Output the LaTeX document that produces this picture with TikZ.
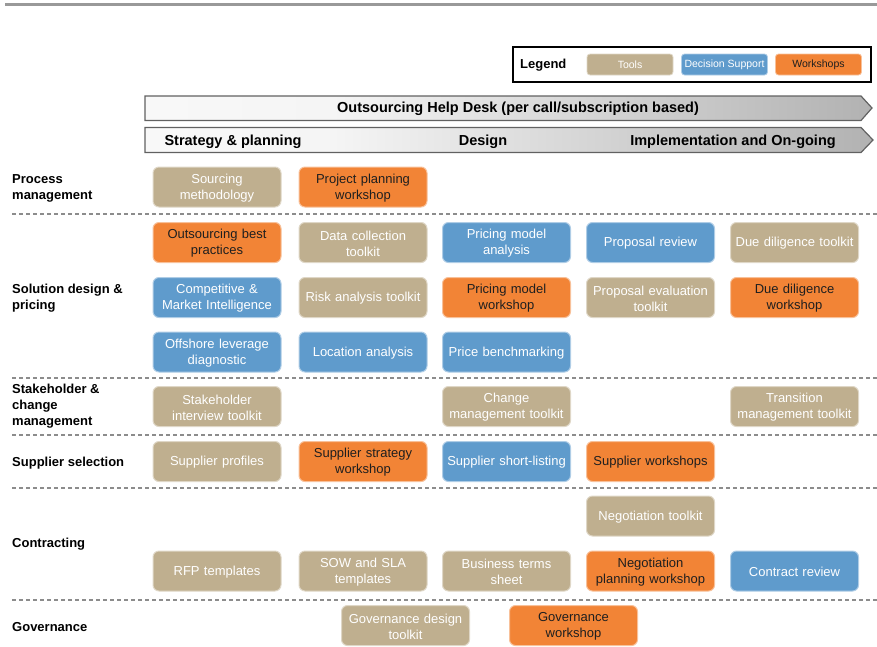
\documentclass[tikz,border=0pt]{standalone}
\usepackage{fontspec}
\setmainfont{Liberation Sans}
\usetikzlibrary{shapes.geometric, arrows.meta, positioning, calc}

\definecolor{toolC}{HTML}{BFAF8F}
\definecolor{decC}{HTML}{5F9BCC}
\definecolor{wsC}{HTML}{F28436}
\pgfdeclarehorizontalshading{bannershade}{100bp}{color(0bp)=(white); color(38bp)=(white!96!black); color(100bp)=(black!48)}

\tikzset{
  item/.style={rectangle, rounded corners=6pt, minimum width=128pt,
               minimum height=40pt, text width=122pt, inner sep=2pt,
               align=center, line width=1pt, text height=11.5pt,
               font=\fontsize{13}{16}\selectfont},
  itemT/.style={item, fill=toolC, draw=toolC!50!white, text=white},
  itemD/.style={item, fill=decC, draw=decC!50!white, text=white},
  itemW/.style={item, fill=wsC, draw=wsC!50!white, text=black!88},
  legitem/.style={rectangle, rounded corners=3pt, minimum width=86pt,
                  minimum height=21pt, inner sep=1pt, line width=0.8pt,
                  font=\fontsize{10.5}{12}\selectfont},
  legT/.style={legitem, fill=toolC, draw=toolC!50!white, text=white},
  legD/.style={legitem, fill=decC, draw=decC!50!white, text=white},
  legW/.style={legitem, fill=wsC, draw=wsC!50!white, text=black!88},
  rowlabel/.style={anchor=west, align=left, inner sep=0pt,
                   font=\bfseries\fontsize{13}{16}\selectfont},
  sep/.style={draw=black!45, line width=1.2pt, dash pattern=on 4pt off 3pt},
  banner/.style={draw=black!62, line width=1.2pt, shading=bannershade},
  bannertext/.style={inner sep=0pt, font=\bfseries\fontsize{14.5}{17}\selectfont},
}

\begin{document}
\begin{tikzpicture}[x=1pt, y=-1pt]

  \useasboundingbox (0,0) rectangle (877,646);

  % top rule
  \draw[black!40, line width=3pt] (5,4) -- (877,4);

  % legend
  \draw[black, line width=1.2pt] (513,47) rectangle (871,82);
  \node[anchor=west, inner sep=0pt, font=\bfseries\fontsize{13}{16}\selectfont] (leg) at (520,65.5) {Legend};
  \node[legT] (legtool) at (630,64.5)   {Tools};
  \node[legD] (legdec)  at (724.5,64.5) {Decision Support};
  \node[legW] (legws)   at (818.5,64.5) {Workshops};

  % banners
  \path[banner] (145,96) -- (861,96) -- (872,108) -- (861,120.5) -- (145,120.5) -- cycle;
  \node[bannertext] (helpdesk) at (518,108.5) {Outsourcing Help Desk (per call/subscription based)};
  \path[banner] (145,127.5) -- (861,127.5) -- (873,140) -- (861,152.5) -- (145,152.5) -- cycle;
  \node[bannertext] (phase1) at (233,141.5) {Strategy \& planning};
  \node[bannertext] (phase2) at (483,141.5) {Design};
  \node[bannertext] (phase3) at (733,141.5) {Implementation and On-going};

  % row separators
  \foreach \yy in {214,378,435,488,600}
    \draw[sep] (12,\yy) -- (877,\yy);

  % row labels
  \node[rowlabel] (lproc)  at (12,188.5) {Process\\management};
  \node[rowlabel] (lsol)   at (12,298.5) {Solution design \&\\pricing};
  \node[rowlabel] (lstake) at (12,406.5) {Stakeholder \&\\change\\management};
  \node[rowlabel] (lsupp)  at (12,463)   {Supplier selection};
  \node[rowlabel] (lcont)  at (12,544)   {Contracting};
  \node[rowlabel] (lgov)   at (12,627)   {Governance};

  % process management
  \node[itemT] (srcmeth)  at (217,187) {Sourcing\\methodology};
  \node[itemW] (projplan) at (363,187) {Project planning\\workshop};

  % solution design & pricing
  \node[itemW] (bestprac) at (217,242.5)   {Outsourcing best\\practices};
  \node[itemT] (datacol)  at (363,242.5)   {Data collection\\toolkit};
  \node[itemD] (pricean)  at (506.5,242.5) {Pricing model\\analysis};
  \node[itemD] (proprev)  at (650.5,242.5) {Proposal review};
  \node[itemT] (duetool)  at (794.5,242.5) {Due diligence toolkit};
  \node[itemD] (compint)  at (217,297.5)   {Competitive \&\\Market Intelligence};
  \node[itemT] (risk)     at (363,297.5)   {Risk analysis toolkit};
  \node[itemW] (pricews)  at (506.5,297.5) {Pricing model\\workshop};
  \node[itemT] (propeval) at (650.5,297.5) {Proposal evaluation\\toolkit};
  \node[itemW] (duews)    at (794.5,297.5) {Due diligence\\workshop};
  \node[itemD] (offshore) at (217,352)     {Offshore leverage\\diagnostic};
  \node[itemD] (location) at (363,352)     {Location analysis};
  \node[itemD] (pricebm)  at (506.5,352)   {Price benchmarking};

  % stakeholder & change management
  \node[itemT] (stakeint) at (217,406.5)   {Stakeholder\\interview toolkit};
  \node[itemT] (changemg) at (506.5,406.5) {Change\\management toolkit};
  \node[itemT] (transmg)  at (794.5,406.5) {Transition\\management toolkit};

  % supplier selection
  \node[itemT] (suppprof) at (217,461.5)   {Supplier profiles};
  \node[itemW] (suppstr)  at (363,461.5)   {Supplier strategy\\workshop};
  \node[itemD] (shortlst) at (506.5,461.5) {Supplier short-listing};
  \node[itemW] (suppws)   at (650.5,461.5) {Supplier workshops};

  % contracting
  \node[itemT] (negtool)  at (650.5,516)   {Negotiation toolkit};
  \node[itemT] (rfp)      at (217,571)     {RFP templates};
  \node[itemT] (sowsla)   at (363,571)     {SOW and SLA\\templates};
  \node[itemT] (bizterms) at (506.5,571)   {Business terms\\sheet};
  \node[itemW] (negplan)  at (650.5,571)   {Negotiation\\planning workshop};
  \node[itemD] (contrev)  at (794.5,571)   {Contract review};

  % governance
  \node[itemT] (govtool)  at (405.5,625.5) {Governance design\\toolkit};
  \node[itemW] (govws)    at (573.5,625.5) {Governance\\workshop};

\end{tikzpicture}
\end{document}
